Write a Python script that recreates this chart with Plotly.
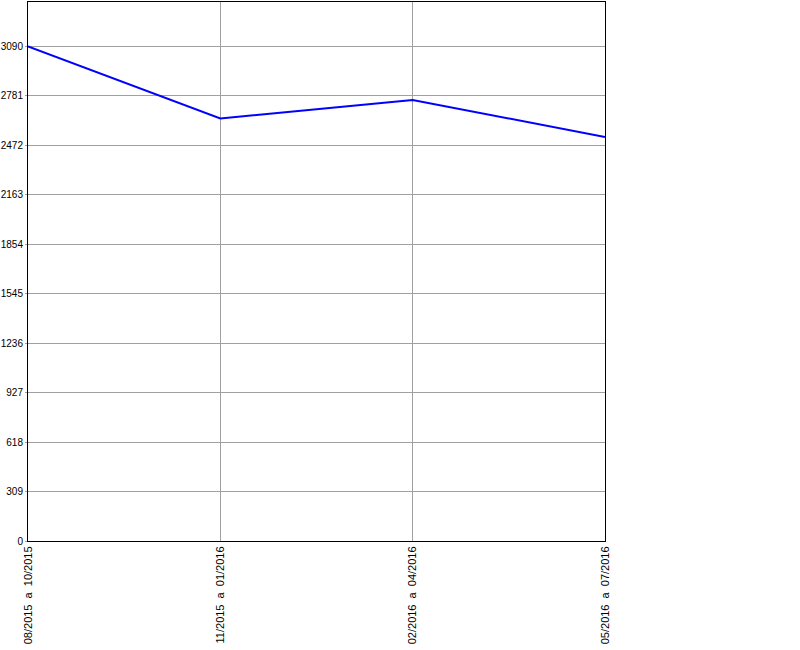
import plotly.graph_objects as go

periods = ["08/2015  a  10/2015", "11/2015  a  01/2016", "02/2016  a  04/2016", "05/2016  a  07/2016"]
values = [3090, 2640, 2755, 2524]
y_ticks = [0, 309, 618, 927, 1236, 1545, 1854, 2163, 2472, 2781, 3090]

fig = go.Figure()
fig.add_trace(go.Scatter(
    x=list(range(len(periods))), y=values, mode="lines",
    line=dict(color="#0000ff", width=2), showlegend=False, hoverinfo="skip"))

fig.update_layout(
    width=800, height=650,
    margin=dict(l=28, r=195, t=2, b=109, autoexpand=False),
    paper_bgcolor="white", plot_bgcolor="white",
    font=dict(family="Liberation Sans, Arial, sans-serif", size=11, color="black"),
)
fig.update_xaxes(
    range=[0, len(periods) - 1], automargin=False,
    tickmode="array", tickvals=list(range(len(periods))), ticktext=periods,
    tickangle=-90, showgrid=True, gridcolor="#a0a0a0", gridwidth=1,
    showline=True, linecolor="black", linewidth=1, mirror=True,
    ticks="", zeroline=False, tickfont=dict(size=11),
)
fig.update_yaxes(
    range=[0, 3367], automargin=False,
    tickmode="array", tickvals=y_ticks, ticktext=[str(v) for v in y_ticks],
    showgrid=True, gridcolor="#a0a0a0", gridwidth=1,
    showline=True, linecolor="black", linewidth=1, mirror=True,
    ticks="outside", ticklen=2, tickcolor="#a0a0a0", zeroline=False,
    tickfont=dict(size=10),
)
fig.write_html("out.html", config={"displayModeBar": False},
               post_script="document.body.style.margin='0';")
